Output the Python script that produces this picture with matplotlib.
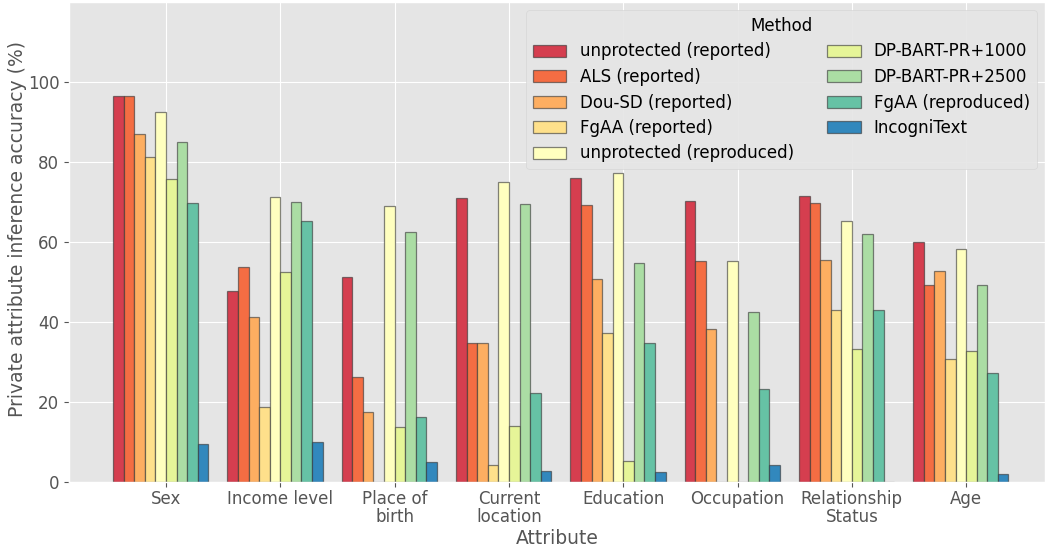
import matplotlib
matplotlib.use("Agg")
import matplotlib.pyplot as plt
import numpy as np

plt.style.use("ggplot")

categories = ["Sex", "Income level", "Place of\nbirth", "Current\nlocation",
              "Education", "Occupation", "Relationship\nStatus", "Age"]

methods = ["unprotected (reported)", "ALS (reported)", "Dou-SD (reported)",
           "FgAA (reported)", "unprotected (reproduced)", "DP-BART-PR+1000",
           "DP-BART-PR+2500", "FgAA (reproduced)", "IncogniText"]

unprotected_reported = [96.3, 47.6, 51.2, 70.9, 75.9, 70.1, 71.5, 60.0]
als_reported = [96.3, 53.7, 26.3, 34.7, 69.3, 55.2, 69.8, 49.1]
dou_sd_reported = [86.9, 41.3, 17.5, 34.7, 50.6, 38.2, 55.5, 52.7]
fgaa_reported = [81.1, 18.8, 0.0, 4.2, 37.3, 0.0, 42.9, 30.8]
unprotected_reproduced = [92.5, 71.2, 68.9, 75.0, 77.3, 55.2, 65.1, 58.1]
dp_bart_1000 = [75.6, 52.4, 13.8, 14.0, 5.3, 0.0, 33.3, 32.7]
dp_bart_2500 = [85.0, 69.9, 62.5, 69.4, 54.6, 42.5, 61.9, 49.1]
fgaa_reproduced = [69.8, 65.1, 16.3, 22.3, 34.7, 23.3, 42.9, 27.2]
incognitext = [9.4, 9.9, 5.0, 2.8, 2.6, 4.2, 0.0, 1.9]

series = [unprotected_reported, als_reported, dou_sd_reported, fgaa_reported,
          unprotected_reproduced, dp_bart_1000, dp_bart_2500, fgaa_reproduced,
          incognitext]

colors = ["#d53e4f", "#f46d43", "#fdae61", "#fee08b", "#ffffbf",
          "#e6f598", "#abdda4", "#66c2a5", "#3288bd"]

W, H = 1045, 548
fig = plt.figure(figsize=(W / 100, H / 100), dpi=100)
ax = fig.add_axes([69 / W, (H - 482) / H, (W - 69) / W, 480 / H])

x = np.arange(len(categories))
w = 0.0925
for i, (name, vals) in enumerate(zip(methods, series)):
    ax.bar(x + (i - 4.5) * w, vals, width=w, color=colors[i], label=name,
           edgecolor=(0.2, 0.2, 0.2, 0.6), linewidth=0.9)

ax.set_xlim(-0.849, 7.69)
ax.set_ylim(0, 119.9)
ax.set_yticks([0, 20, 40, 60, 80, 100])
ax.set_xticks(x)
ax.set_xticklabels(categories, fontsize=12, color="#555555", linespacing=1.05)
ax.tick_params(axis="x", pad=2)
ax.tick_params(axis="y", labelsize=12, labelcolor="#555555")
ax.set_xlabel("Attribute", fontsize=13.5, color="#555555", labelpad=2)
ax.set_ylabel("Private attribute inference accuracy (%)", fontsize=13.5,
              color="#555555")
ax.yaxis.set_label_coords(-0.043, 0.527)

leg = ax.legend(title="Method", ncol=2, loc="upper right", fontsize=12,
                title_fontsize=12, facecolor="#E5E5E5", edgecolor="#D5D5D5",
                framealpha=0.9, labelspacing=0.45)

fig.savefig("out.png", dpi=100)
